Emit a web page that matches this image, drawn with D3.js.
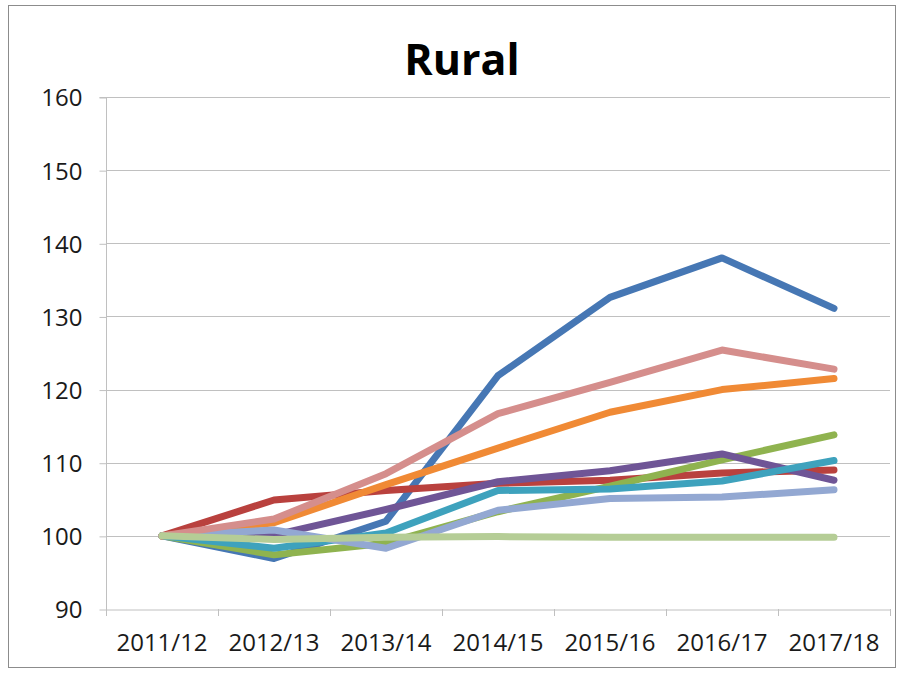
<!DOCTYPE html>
<html>
<head>
<meta charset="utf-8">
<script src="https://cdn.jsdelivr.net/npm/d3@7"></script>
<style>
  body { margin: 0; background: #fff; }
  svg { display: block; }
</style>
</head>
<body>
<div id="chart"></div>
<script>
const width = 903, height = 673;
const margin = { top: 97, right: 13, bottom: 64, left: 106 };

const years = ['2011/12', '2012/13', '2013/14', '2014/15', '2015/16', '2016/17', '2017/18'];
const yTicks = [90, 100, 110, 120, 130, 140, 150, 160];

const blueSeries      = [100, 96.9, 102.0, 121.9, 132.6, 138.0, 131.1];
const redSeries       = [100, 104.9, 106.2, 107.2, 107.6, 108.6, 109.0];
const greenSeries     = [100, 97.4, 99.0, 103.3, 106.8, 110.4, 113.8];
const purpleSeries    = [100, 100.1, 103.6, 107.4, 108.9, 111.2, 107.6];
const tealSeries      = [100, 98.3, 100.4, 106.2, 106.4, 107.5, 110.3];
const orangeSeries    = [100, 101.8, 107.0, 112.0, 116.9, 120.0, 121.5];
const lightBlueSeries = [100, 100.8, 98.3, 103.5, 105.1, 105.3, 106.3];
const pinkSeries      = [100, 102.3, 108.5, 116.7, 121.0, 125.4, 122.8];
const lightGreenSeries = [100, 99.5, 99.8, 99.9, 99.8, 99.8, 99.8];

const series = [
    { values: blueSeries, color: '#4677b4' },
    { values: redSeries, color: '#b9413e' },
    { values: greenSeries, color: '#8fb34f' },
    { values: purpleSeries, color: '#6f5596' },
    { values: tealSeries, color: '#3ea2bd' },
    { values: orangeSeries, color: '#f08a35' },
    { values: lightBlueSeries, color: '#93a8d2' },
    { values: pinkSeries, color: '#d58e8c' },
    { values: lightGreenSeries, color: '#b5cd96' }
];

const svg = d3.select('#chart')
    .append('svg')
    .attr('width', width)
    .attr('height', height);

// chart border
svg.append('rect')
    .attr('x', 8.5).attr('y', 5.5)
    .attr('width', 887).attr('height', 662)
    .attr('fill', '#fff')
    .attr('stroke', '#8c8c8c');

const x = d3.scaleBand()
    .domain(years)
    .range([margin.left, width - margin.right]);

const y = d3.scaleLinear()
    .domain([90, 160])
    .range([height - margin.bottom, margin.top]);

// gridlines
svg.append('g')
    .selectAll('line')
    .data(yTicks.slice(1))
    .enter()
    .append('line')
    .attr('x1', margin.left)
    .attr('x2', width - margin.right)
    .attr('y1', d => Math.round(y(d)) + 0.5)
    .attr('y2', d => Math.round(y(d)) + 0.5)
    .attr('stroke', '#c0c0c0');

// Y Axis
const yAxis = svg.append('g')
    .attr('transform', `translate(${margin.left + 0.5},0.5)`)
    .call(d3.axisLeft(y).tickValues(yTicks).tickSize(7).tickPadding(17))
    .style('font-family', '"Open Sans", sans-serif')
    .style('font-size', '24px');
yAxis.select('.domain').attr('stroke', '#c0c0c0').attr('d', `M-7,${y(160)}H0V${y(90)}`);
yAxis.selectAll('.tick line').attr('stroke', '#c0c0c0');
yAxis.selectAll('.tick text').attr('fill', '#1a1a1a').attr('dy', '0.35em');

// X Axis
const xAxis = svg.append('g')
    .attr('transform', `translate(0,${Math.round(y(90)) + 0.5})`)
    .call(d3.axisBottom(x).tickSize(0).tickPadding(24))
    .style('font-family', '"Open Sans", sans-serif')
    .style('font-size', '24px');
xAxis.select('.domain').attr('stroke', '#c0c0c0');
xAxis.selectAll('.tick text').attr('fill', '#1a1a1a');

// category boundary ticks
svg.append('g')
    .selectAll('line')
    .data(d3.range(years.length + 1))
    .enter()
    .append('line')
    .attr('x1', i => Math.round(margin.left + i * x.step()) + 0.5)
    .attr('x2', i => Math.round(margin.left + i * x.step()) + 0.5)
    .attr('y1', y(90))
    .attr('y2', y(90) + 7)
    .attr('stroke', '#c0c0c0');

// lines
const line = d3.line()
    .x((d, i) => x(years[i]) + x.bandwidth() / 2)
    .y(d => y(d));

svg.append('g')
    .selectAll('path')
    .data(series)
    .enter()
    .append('path')
    .attr('d', d => line(d.values))
    .attr('fill', 'none')
    .attr('stroke', d => d.color)
    .attr('stroke-width', 7)
    .attr('stroke-linecap', 'round')
    .attr('stroke-linejoin', 'round');

// Title
svg.append('text')
    .attr('x', 462)
    .attr('y', 75)
    .attr('text-anchor', 'middle')
    .style('font-family', '"Open Sans", sans-serif')
    .style('font-weight', 'bold')
    .style('font-size', '43px')
    .attr('fill', '#000')
    .text('Rural');
</script>
</body>
</html>
